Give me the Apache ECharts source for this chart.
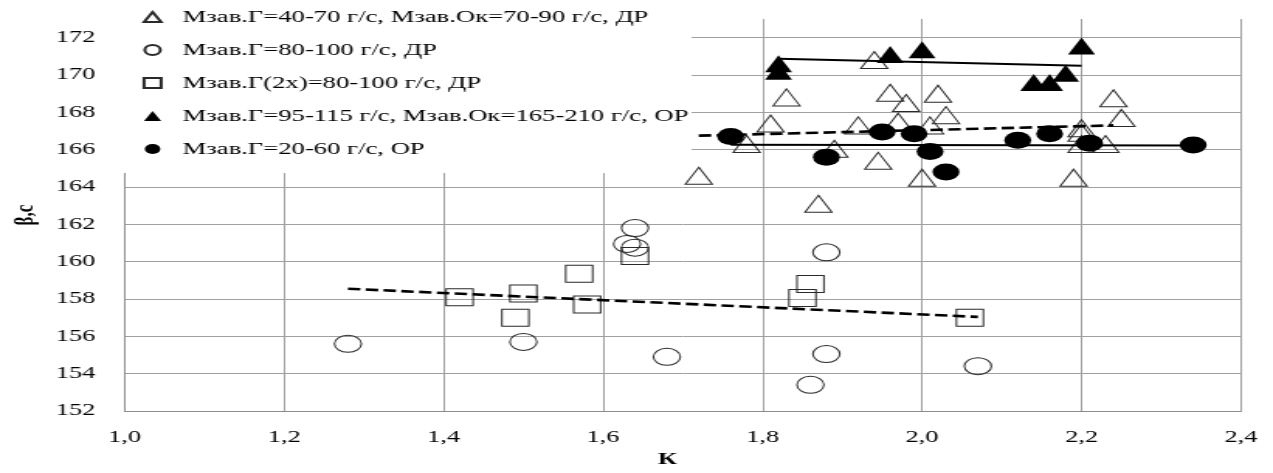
<!DOCTYPE html>
<html><head><meta charset="utf-8">
<script src="https://cdn.jsdelivr.net/npm/echarts@6/dist/echarts.min.js"></script>
<style>
html,body{margin:0;padding:0;background:#fff;overflow:hidden;width:1273px;height:473px;}
#chart{width:821px;height:473px;transform:scaleX(1.5505);transform-origin:0 0;}
</style></head><body><div id="chart"></div>
<script>
// ---- data ----
const seriesNames = [
  'Мзав.Г=40-70 г/с, Мзав.Ок=70-90 г/с, ДР',
  'Мзав.Г=80-100 г/с, ДР',
  'Мзав.Г(2х)=80-100 г/с, ДР',
  'Мзав.Г=95-115 г/с, Мзав.Ок=165-210 г/с, ОР',
  'Мзав.Г=20-60 г/с, ОР'
];
const openTriangles = [
  [1.72,164.6],[1.78,166.3],[1.81,167.4],[1.83,168.8],[1.87,163.1],[1.89,166.05],[1.92,167.3],
  [1.94,170.8],[1.945,165.4],[1.96,169.05],[1.97,167.5],[1.98,168.5],[2.00,164.5],[2.01,167.3],
  [2.02,169.0],[2.03,167.85],[2.19,164.5],[2.20,167.15],[2.20,166.9],[2.20,166.3],[2.23,166.3],
  [2.24,168.75],[2.25,167.7]
];
const openCircles = [
  [1.28,155.6],[1.50,155.7],[1.63,160.95],[1.64,161.8],[1.64,160.75],[1.68,154.9],
  [1.86,153.4],[1.88,160.5],[1.88,155.05],[2.07,154.4]
];
const openSquares = [
  [1.42,158.1],[1.49,157.0],[1.50,158.3],[1.57,159.35],[1.58,157.7],[1.64,160.3],
  [1.85,158.05],[1.86,158.8],[2.06,157.0]
];
const filledTriangles = [
  [1.82,170.6],[1.82,170.2],[1.96,171.1],[2.00,171.35],[2.14,169.6],[2.16,169.6],[2.18,170.1],[2.20,171.55]
];
const filledCircles = [
  [1.76,166.7],[1.88,165.6],[1.95,166.95],[1.99,166.85],[2.01,165.9],[2.03,164.8],
  [2.12,166.5],[2.16,166.85],[2.21,166.35],[2.34,166.25]
];
// trend lines (end points)
const trendOpenTriangles = [[1.72,166.75],[2.24,167.3]];
const trendFilledTriangles = [[1.82,170.87],[2.20,170.49]];
const trendFilledCircles = [[1.76,166.26],[2.34,166.22]];
const trendOpenCircles = [[1.28,158.55],[2.07,157.04]];

const xTickLabels = ['1,0','1,2','1,4','1,6','1,8','2,0','2,2','2,4'];
const yTickLabels = ['152','154','156','158','160','162','164','166','168','170','172'];
const xAxisTitle = 'К';
const yAxisTitle = 'β,с';

// ---- chart ----
const FONT = '"Liberation Serif", "Times New Roman", serif';
const chart = echarts.init(document.getElementById('chart'), null, {width: 821, height: 473});
const MS = [17.4, 17];
const openStyle = {color: 'rgba(0,0,0,0)', borderColor: '#2a2a2a', borderWidth: 1, opacity: 1};
const filledStyle = {color: '#000', borderColor: '#000', borderWidth: 0, opacity: 1};

function scatter(name, data, symbol, style) {
  return {type: 'scatter', name: name, data: data, symbol: symbol, symbolSize: MS,
    itemStyle: style, emphasis: {disabled: true}, z: 2};
}
function trend(data, dashed) {
  return {type: 'line', data: data, symbol: 'none', silent: true, z: 3,
    lineStyle: {color: '#000', width: dashed ? 2.6 : 2, type: dashed ? [8, 3.5] : 'solid'},
    emphasis: {disabled: true}};
}

chart.setOption({
  animation: false,
  backgroundColor: '#fff',
  textStyle: {fontFamily: FONT},
  grid: {left: 69.65, right: 20.6, top: 19, bottom: 59},
  legend: {
    orient: 'vertical', left: 74.8, top: 0,
    data: seriesNames,
    backgroundColor: '#fff',
    padding: [8, 2, 15, 17.1],
    itemWidth: 11, itemHeight: 10, itemGap: 15,
    selectedMode: false,
    textStyle: {fontFamily: FONT, fontSize: 17.2, color: '#000', lineHeight: 18, padding: [0, 0, 0, 8.8]}
  },
  xAxis: {
    type: 'value', min: 1.0, max: 2.4, interval: 0.2,
    name: xAxisTitle, nameLocation: 'middle', nameGap: 40,
    nameTextStyle: {fontFamily: FONT, fontSize: 17, fontWeight: 'bold', color: '#000', padding: [0, 20, 0, 0]},
    axisLine: {show: true, lineStyle: {color: '#8c8c8c', width: 1}},
    axisTick: {show: false},
    axisLabel: {fontFamily: FONT, fontSize: 17, color: '#000', margin: 18,
      formatter: v => xTickLabels[Math.round((v - 1.0) / 0.2)] || ''},
    splitLine: {show: true, lineStyle: {color: '#a0a0a0', width: 1}}
  },
  yAxis: {
    type: 'value', min: 152, max: 173, interval: 2,
    name: yAxisTitle, nameLocation: 'middle', nameGap: 47, nameRotate: 90,
    nameTextStyle: {fontFamily: FONT, fontSize: 17, fontWeight: 'bold', color: '#000'},
    axisLine: {show: true, lineStyle: {color: '#8c8c8c', width: 1}},
    axisTick: {show: false},
    axisLabel: {fontFamily: FONT, fontSize: 17, color: '#000', margin: 19,
      formatter: v => {
        const k = (v - 152) / 2;
        return Number.isInteger(Math.round(k * 1000) / 1000) ? (yTickLabels[Math.round(k)] || '') : '';
      }},
    splitLine: {show: true, showMaxLine: false, lineStyle: {color: '#a0a0a0', width: 1}}
  },
  series: [
    scatter(seriesNames[0], openTriangles, 'triangle', openStyle),
    scatter(seriesNames[1], openCircles, 'circle', openStyle),
    scatter(seriesNames[2], openSquares, 'rect', openStyle),
    scatter(seriesNames[3], filledTriangles, 'triangle', filledStyle),
    scatter(seriesNames[4], filledCircles, 'circle', filledStyle),
    trend(trendOpenTriangles, true),
    trend(trendFilledTriangles, false),
    trend(trendFilledCircles, false),
    trend(trendOpenCircles, true)
  ]
});
</script></body></html>
